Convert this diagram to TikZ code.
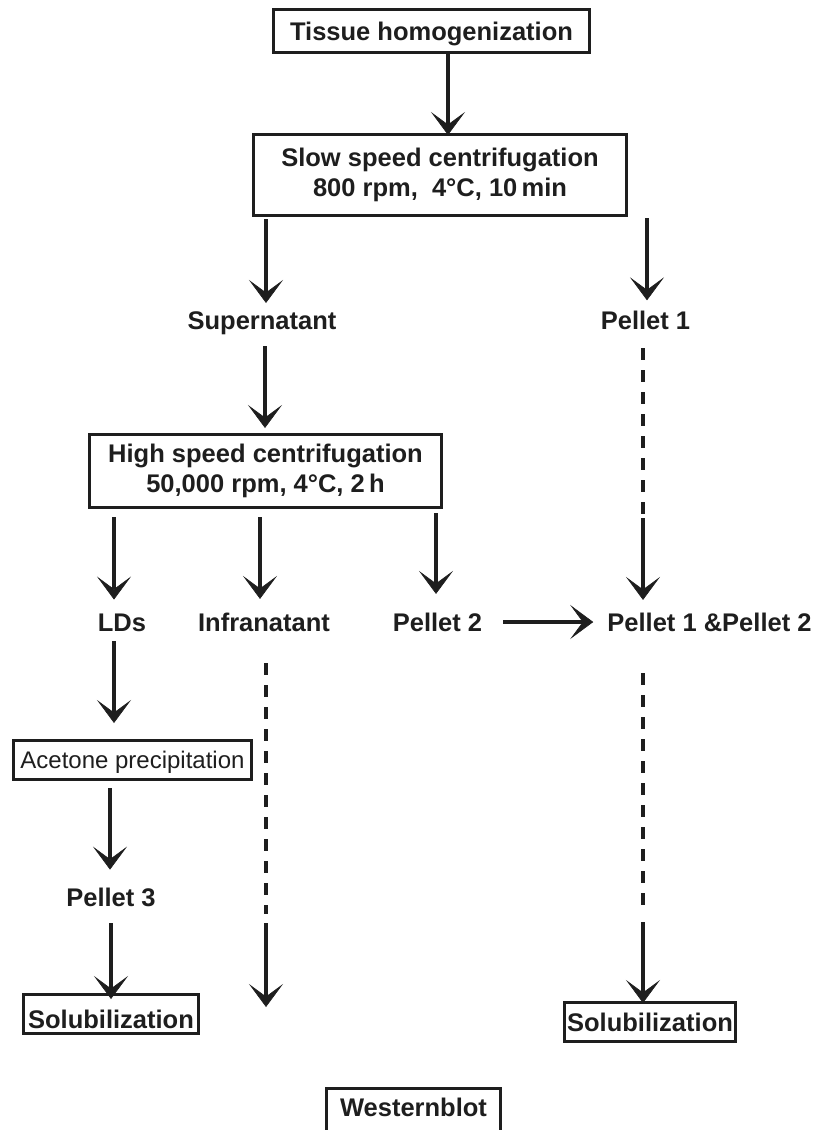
\documentclass[tikz,border=0pt]{standalone}
\usepackage{fontspec}
\setmainfont{Liberation Sans}
\usetikzlibrary{arrows.meta}
\definecolor{ink}{HTML}{1E1E1E}
\tikzset{
  bfnt/.style={font=\fontsize{25.5}{30.5}\selectfont\bfseries},
  boxb/.style={bfnt, draw=ink, text=ink, line width=2.6pt, inner sep=0pt, text height=18.3pt, text depth=0pt},
  boxm/.style={bfnt, draw=ink, text=ink, line width=2.6pt, inner sep=0pt, align=center},
  boxr/.style={font=\fontsize{24}{28}\selectfont, draw=ink, text=ink, line width=2.6pt, inner sep=0pt, text height=17.2pt, text depth=0pt},
  lbl/.style={bfnt, text=ink, inner sep=0pt, anchor=base},
  arr/.style={draw=ink, line width=4.5pt, -{Stealth[length=23pt,width=34pt,inset=12.5pt,line width=0.6pt]}},
  dsh/.style={draw=ink, line width=3.5pt, dash pattern=on 12pt off 10pt},
}
\begin{document}
\begin{tikzpicture}[x=1pt,y=-1pt]
\path[use as bounding box, clip] (0,0) rectangle (817,1130);
\fill[white] (0,0) rectangle (817,1130);

% nodes
\node[boxb, minimum width=316.4pt, minimum height=43.4pt] (tis) at (431.5,31) {Tissue homogenization};
\node[boxm, minimum width=373.4pt, minimum height=81.4pt] (slow) at (440,175) {Slow speed centrifugation\\800 rpm,~ 4°C, 10\,min};
\node[lbl] (sup) at (262,329) {Supernatant};
\node[lbl] (pel1) at (645.5,329) {Pellet 1};
\node[boxm, minimum width=352.4pt, minimum height=73.4pt] (high) at (265.5,471) {High speed centrifugation\\50,000 rpm, 4°C, 2\,h};
\node[lbl] (lds) at (122,631) {LDs};
\node[lbl] (inf) at (264,631) {Infranatant};
\node[lbl] (pel2) at (437.5,631) {Pellet 2};
\node[lbl] (pel12) at (709.5,631) {Pellet 1 \&Pellet 2};
\node[boxr, minimum width=238.4pt, minimum height=39.4pt] (acet) at (132.5,760) {Acetone precipitation};
\node[lbl] (pel3) at (111,906) {Pellet 3};
\node[boxb, minimum width=175.4pt, minimum height=39.4pt, text height=28pt] (sol1) at (111,1014) {Solubilization};
\node[boxb, minimum width=171.4pt, minimum height=39.4pt] (sol2) at (650,1022) {Solubilization};
\node[boxb, minimum width=174.4pt, minimum height=42.8pt, text height=13.8pt] (wb) at (413.5,1109.6) {Westernblot};

% free ends
\coordinate (m1) at (643,516.5);
\coordinate (m2) at (266,918);
\coordinate (e1) at (266,1007);
\coordinate (m4) at (643,918);

% connectors
\draw[arr, shorten >=-2pt] (tis.south -| 448,0) -- (slow.north -| 448,0);
\draw[arr, shorten <=2pt, shorten >=8pt] (slow.south -| 266,0) -- (sup.north -| 266,0);
\draw[arr, shorten <=1pt, shorten >=10pt] (slow.south -| 647,0) -- (pel1.north -| 647,0);
\draw[arr, shorten <=11.6pt, shorten >=5pt] (sup.south -| 265,0) -- (high.north -| 265,0);
\draw[dsh, shorten <=19pt] (pel1.south -| 643,0) -- (m1);
\draw[arr, shorten <=1.5pt, shorten >=12.4pt] (m1) -- (pel12.north -| 643,0);
\draw[arr, shorten <=8pt, shorten >=13.7pt] (high.south -| 114,0) -- (lds.north -| 114,0);
\draw[arr, shorten <=8pt, shorten >=13.4pt] (high.south -| 260,0) -- (inf.north -| 260,0);
\draw[arr, shorten <=4pt, shorten >=18.4pt] (high.south -| 436,0) -- (pel2.north -| 436,0);
\draw[arr, shorten <=21pt, shorten >=14pt] (pel2.east |- 0,622) -- (pel12.west |- 0,622);
\draw[arr, shorten <=10pt, shorten >=16pt] (lds.south -| 114,0) -- (acet.north -| 114,0);
\draw[dsh, shorten <=32pt, shorten >=4pt] (inf.south -| 266,0) -- (m2);
\draw[arr, shorten <=5pt] (m2) -- (e1);
\draw[arr, shorten <=7pt, shorten >=17.7pt] (acet.south -| 110,0) -- (pel3.north -| 110,0);
\draw[arr, shorten <=17pt, shorten >=-6pt] (pel3.south -| 111,0) -- (sol1.north -| 111,0);
\draw[dsh, shorten <=42pt, shorten >=4pt] (pel12.south -| 643,0) -- (m4);
\draw[arr, shorten <=4pt, shorten >=-2pt] (m4) -- (sol2.north -| 643,0);
\end{tikzpicture}
\end{document}
